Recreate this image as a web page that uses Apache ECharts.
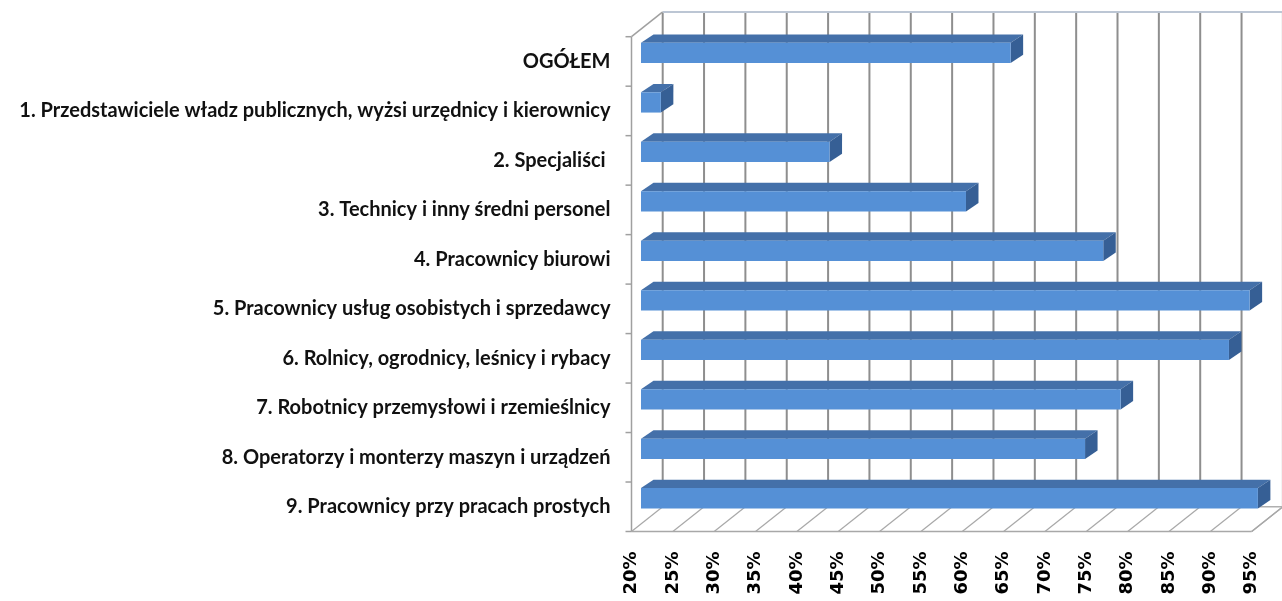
<!DOCTYPE html>
<html>
<head>
<meta charset="utf-8">
<script src="https://cdn.jsdelivr.net/npm/echarts@6/dist/echarts.min.js"></script>
<style>
html,body{margin:0;padding:0;background:#fff;}
#chart{width:1282px;height:601px;}
</style>
</head>
<body>
<div id="chart"></div>
<script>
// ---- data ----
const categories = [
  'OGÓŁEM',
  '1. Przedstawiciele władz publicznych, wyżsi urzędnicy i kierownicy',
  '2. Specjaliści ',
  '3. Technicy i inny średni personel',
  '4. Pracownicy biurowi',
  '5. Pracownicy usług osobistych i sprzedawcy',
  '6. Rolnicy, ogrodnicy, leśnicy i rybacy',
  '7. Robotnicy przemysłowi i rzemieślnicy',
  '8. Operatorzy i monterzy maszyn i urządzeń',
  '9. Pracownicy przy pracach prostych'
];
const values = [64.7, 22.4, 42.8, 59.3, 75.9, 93.6, 91.1, 78.0, 73.7, 94.6];
const tickValues = [20, 25, 30, 35, 40, 45, 50, 55, 60, 65, 70, 75, 80, 85, 90, 95];
const xMin = 20, xMax = 95, xStep = 5;

// ---- 3D look (styles only) ----
const WALL_DX = 31.2, WALL_DY = -24.8;   // depth of the whole plot box
const FRONT_DX = 9.5, FRONT_DY = -8.5;   // bar front face inside the box
const BAR_DX = 12.5, BAR_DY = -8.4;      // bar depth
const BAR_FRAC = 0.41;
const COL_FRONT = '#5590d6', COL_TOP = '#4470a9', COL_SIDE = '#365f95';
const GRID_COL = '#8e8e8e', FLOOR_COL = '#a8a8a8';

function renderGridLine(params, api) {
  const cs = params.coordSys;
  const x = api.coord([api.value(0), 0])[0];
  const yTop = cs.y, yBot = cs.y + cs.height;
  return {
    type: 'group',
    children: [
      { type: 'line', shape: { x1: x + WALL_DX, y1: yTop + WALL_DY, x2: x + WALL_DX, y2: yBot + WALL_DY },
        style: { stroke: GRID_COL, lineWidth: 2 } },
      { type: 'line', shape: { x1: x, y1: yBot, x2: x + WALL_DX, y2: yBot + WALL_DY },
        style: { stroke: FLOOR_COL, lineWidth: 1.2 } }
    ]
  };
}

function renderFrame(params, api) {
  const cs = params.coordSys;
  const xl = api.coord([xMin, 0])[0], xr = api.coord([xMax, 0])[0];
  const yTop = cs.y, yBot = cs.y + cs.height;
  const band = api.size([0, 1])[1];
  const ch = [];
  const ln = (x1, y1, x2, y2, c, w) => ch.push({ type: 'line', shape: { x1, y1, x2, y2 }, style: { stroke: c, lineWidth: w } });
  // left wall
  ln(xl, yTop, xl, yBot, '#a0a0a0', 1.5);
  ln(xl, yTop, xl + WALL_DX, yTop + WALL_DY, '#a0a0a0', 1.5);
  // back wall top edge
  ln(xl + WALL_DX, yTop + WALL_DY, xr + WALL_DX, yTop + WALL_DY, '#bcc6d4', 2);
  // floor outline
  ln(xl, yBot, xr, yBot, '#a8a8a8', 1.5);
  ln(xr, yBot, xr + WALL_DX, yBot + WALL_DY, '#a8a8a8', 1.5);
  ln(xl + WALL_DX, yBot + WALL_DY, xr + WALL_DX, yBot + WALL_DY, '#b0b0b0', 1.5);
  // category ticks on left wall
  for (let i = 0; i <= categories.length; i++) {
    const y = yTop + i * band;
    ln(xl - 6, y, xl, y, '#a0a0a0', 1.5);
  }
  return { type: 'group', children: ch };
}

function renderBar(params, api) {
  const cat = api.value(0), v = api.value(1);
  const p0 = api.coord([xMin, cat]);
  const p1 = api.coord([v, cat]);
  const band = api.size([0, 1])[1];
  const h = band * BAR_FRAC;
  const x0 = p0[0] + FRONT_DX, x1 = p1[0] + FRONT_DX;
  const yc = p0[1] + FRONT_DY;
  const y0 = yc - h / 2, y1 = yc + h / 2;
  return {
    type: 'group',
    children: [
      { type: 'polygon', shape: { points: [[x0, y0], [x1, y0], [x1 + BAR_DX, y0 + BAR_DY], [x0 + BAR_DX, y0 + BAR_DY]] },
        style: { fill: COL_TOP } },
      { type: 'polygon', shape: { points: [[x1, y0], [x1 + BAR_DX, y0 + BAR_DY], [x1 + BAR_DX, y1 + BAR_DY], [x1, y1]] },
        style: { fill: COL_SIDE } },
      { type: 'rect', shape: { x: x0, y: y0, width: x1 - x0, height: h },
        style: { fill: COL_FRONT } }
    ]
  };
}

const chart = echarts.init(document.getElementById('chart'), null, { renderer: 'canvas' });
chart.setOption({
  backgroundColor: '#ffffff',
  animation: false,
  grid: { left: 631.5, top: 36.7, width: 620.2, height: 494.8, containLabel: false },
  xAxis: {
    type: 'value', min: xMin, max: xMax, interval: xStep,
    axisLine: { show: false }, axisTick: { show: false }, splitLine: { show: false },
    axisLabel: {
      rotate: 90, margin: 20, formatter: '{value}%',
      fontFamily: 'DejaVu Sans', fontWeight: 'bold', fontSize: 18, color: '#000'
    }
  },
  yAxis: {
    type: 'category', data: categories, inverse: true,
    axisLine: { show: false }, axisTick: { show: false }, splitLine: { show: false },
    axisLabel: {
      margin: 21, fontFamily: 'Lato', fontWeight: 'bold', fontSize: 20, color: '#111'
    }
  },
  series: [
    {
      type: 'custom', name: 'grid', renderItem: renderGridLine, silent: true, z: 1,
      encode: { x: 0, y: 1 },
      data: tickValues.map(t => [t, 0])
    },
    {
      type: 'custom', name: 'frame', renderItem: renderFrame, silent: true, z: 1,
      encode: { x: 0, y: 1 },
      data: [[xMin, 0]]
    },
    {
      type: 'custom', name: 'bars', renderItem: renderBar, z: 3,
      encode: { x: 1, y: 0 },
      data: values.map((v, i) => [i, v])
    }
  ]
});
</script>
</body>
</html>
